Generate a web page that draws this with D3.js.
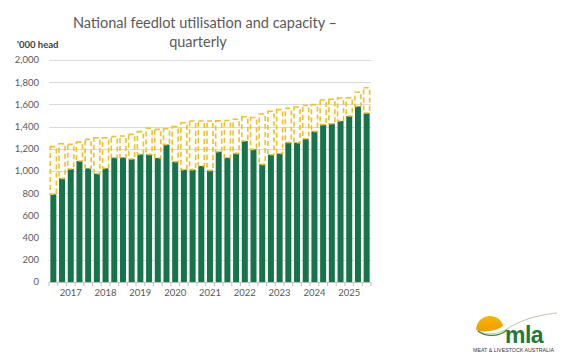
<!DOCTYPE html>
<html>
<head>
<meta charset="utf-8">
<script src="https://cdn.jsdelivr.net/npm/d3@7"></script>
<style>
  html, body { margin: 0; padding: 0; background: #fff; }
  svg { display: block; font-family: Lato, "Open Sans", sans-serif; }
</style>
</head>
<body>
<svg id="chart" width="567" height="356"></svg>
<script>
// Quarterly data, Dec-2016 quarter to Dec-2025 quarter ('000 head)
const quarters = d3.range(37).map(i => {
  const q = (3 + i) % 4;            // 0=Mar,1=Jun,2=Sep,3=Dec
  const year = 2016 + Math.floor((3 + i) / 4);
  return year + "Q" + (q + 1);
});
const utilisation = [790, 934, 1018, 1090, 1024, 976, 1024, 1120, 1122, 1108,
  1150, 1150, 1117, 1238, 1084, 1012, 1012, 1045, 1006, 1174,
  1120, 1159, 1270, 1195, 1060, 1147, 1157, 1258, 1255, 1291,
  1357, 1418, 1426, 1450, 1495, 1582, 1522];
const capacity = [1220, 1245, 1240, 1260, 1285, 1300, 1300, 1310, 1315, 1330,
  1355, 1385, 1375, 1380, 1400, 1435, 1450, 1450, 1450, 1452,
  1455, 1466, 1489, 1482, 1513, 1538, 1553, 1564, 1577, 1590,
  1598, 1640, 1646, 1658, 1660, 1710, 1750];
const yearLabels = ["2017", "2018", "2019", "2020", "2021", "2022", "2023", "2024", "2025"];
const yTicks = [0, 200, 400, 600, 800, 1000, 1200, 1400, 1600, 1800, 2000];

const svg = d3.select("#chart");
const margin = { left: 49, right: 196, top: 60, bottom: 74 };
const W = 567, H = 356;

const x = d3.scaleBand().domain(quarters).range([margin.left, W - margin.right])
  .paddingInner(0.31).paddingOuter(0.155);
const y = d3.scaleLinear().domain([0, 2000]).range([H - margin.bottom, margin.top]);

const GRID = "#d9d9d9", TXT = "#595959";

// gridlines
svg.append("g").selectAll("line").data(yTicks.filter(d => d > 0)).join("line")
  .attr("x1", margin.left).attr("x2", W - margin.right)
  .attr("y1", d => Math.round(y(d)) + 0.5).attr("y2", d => Math.round(y(d)) + 0.5)
  .attr("stroke", GRID).attr("stroke-width", 1.2);

// y labels
svg.append("g").selectAll("text").data(yTicks).join("text")
  .attr("x", 39).attr("y", d => y(d)).attr("dy", "0.35em")
  .attr("text-anchor", "end").attr("fill", TXT).attr("font-size", 9.5)
  .text(d => d3.format(",")(d));

svg.append("text").attr("x", 17).attr("y", 48).attr("fill", "#404040")
  .attr("font-size", 9.5).attr("font-weight", "bold").text("'000 head");

// utilisation bars
svg.append("g").selectAll("rect").data(quarters).join("rect")
  .attr("x", d => x(d)).attr("width", x.bandwidth())
  .attr("y", (d, i) => y(utilisation[i]))
  .attr("height", (d, i) => y(0) - y(utilisation[i]))
  .attr("fill", "#17744a");

// spare capacity (stacked, dashed outline)
svg.append("g").selectAll("rect").data(quarters).join("rect")
  .attr("x", d => x(d)).attr("width", x.bandwidth())
  .attr("y", (d, i) => y(capacity[i]))
  .attr("height", (d, i) => y(utilisation[i]) - y(capacity[i]))
  .attr("fill", "none").attr("stroke", "#ecc12a").attr("stroke-width", 1.6)
  .attr("stroke-dasharray", "5,3");

// x axis baseline and ticks
const x0 = margin.left, x1 = W - margin.right, yb = y(0);
svg.append("line").attr("x1", x0).attr("x2", x1).attr("y1", yb + 0.5).attr("y2", yb + 0.5)
  .attr("stroke", "#bfbfbf").attr("stroke-width", 1);
const step = x.step();
svg.append("g").selectAll("line").data(d3.range(quarters.length + 1)).join("line")
  .attr("x1", i => x0 + i * step).attr("x2", i => x0 + i * step)
  .attr("y1", yb).attr("y2", yb + 4).attr("stroke", "#bfbfbf");

// year labels (positioned at each year's second quarter, as in original)
svg.append("g").selectAll("text").data(yearLabels).join("text")
  .attr("x", d => x(d + "Q2") + x.bandwidth() / 2)
  .attr("y", yb + 14).attr("text-anchor", "middle")
  .attr("fill", TXT).attr("font-size", 9.5).text(d => d);

// title
const title = svg.append("text").attr("text-anchor", "middle").attr("fill", TXT)
  .attr("font-size", 14.5);
title.append("tspan").attr("x", 205).attr("y", 28).text("National feedlot utilisation and capacity –");
title.append("tspan").attr("x", 198).attr("y", 47).text("quarterly");

// MLA logo
const logo = svg.append("g");
const grad = svg.append("defs").append("linearGradient").attr("id", "sun")
  .attr("x1", 0).attr("x2", 0).attr("y1", 0).attr("y2", 1);
grad.append("stop").attr("offset", "0%").attr("stop-color", "#f7b500");
grad.append("stop").attr("offset", "100%").attr("stop-color", "#f39c00");
logo.append("path")
  .attr("d", "M476,330 C477,312 500,312 503,326 C496,331 484,333 476,330 Z")
  .attr("fill", "url(#sun)");
logo.append("path")
  .attr("d", "M476,329 C486,337 500,334 510,327 C525,318 545,314 557,313")
  .attr("fill", "none").attr("stroke", "#b9c7a5").attr("stroke-width", 1);
logo.append("path")
  .attr("d", "M478,331 C487,338 500,336 507,330")
  .attr("fill", "none").attr("stroke", "#2e8b3e").attr("stroke-width", 1.2);
logo.append("text").attr("x", 505).attr("y", 343).attr("fill", "#1f7a3a")
  .attr("font-family", "'Liberation Sans', Arial, sans-serif")
  .attr("font-size", 23).attr("font-weight", "bold").attr("letter-spacing", -0.5).text("mla");
logo.append("text").attr("x", 473).attr("y", 352).attr("fill", "#333")
  .attr("font-family", "'Liberation Sans', Arial, sans-serif")
  .attr("font-size", 5.3).text("MEAT & LIVESTOCK AUSTRALIA");
</script>
</body>
</html>
